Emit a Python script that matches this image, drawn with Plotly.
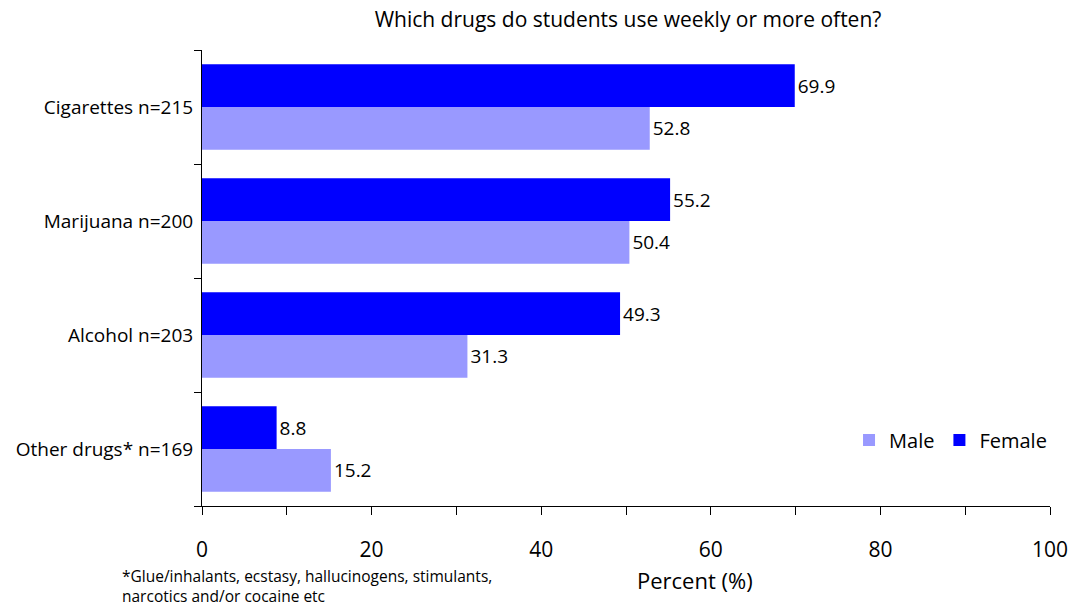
import plotly.graph_objects as go

categories = ["Other drugs* n=169", "Alcohol n=203", "Marijuana n=200", "Cigarettes n=215"]
male = [15.2, 31.3, 50.4, 52.8]
female = [8.8, 49.3, 55.2, 69.9]

FONT = "'Open Sans', Lato, sans-serif"

fig = go.Figure()
fig.add_trace(go.Bar(y=categories, x=male, orientation="h", name="Male",
                     marker=dict(color="#9999FF", line=dict(width=0)),
                     texttemplate="%{x:.1f}", textposition="outside",
                     textfont=dict(size=19, color="black"), cliponaxis=False))
fig.add_trace(go.Bar(y=categories, x=female, orientation="h", name="Female",
                     marker=dict(color="#0000FF", line=dict(width=0)),
                     texttemplate="%{x:.1f}", textposition="outside",
                     textfont=dict(size=19, color="black"), cliponaxis=False))

fig.update_layout(
    width=1077, height=607,
    margin=dict(l=202, r=27, t=50, b=101, autoexpand=False),
    paper_bgcolor="white", plot_bgcolor="white",
    font=dict(family=FONT, size=17, color="black"),
    barmode="group", bargap=0.248, bargroupgap=0,
    title=dict(text="Which drugs do students use weekly or more often?",
               x=628 / 1077, xref="container", xanchor="center",
               y=1 - 20 / 607, yref="container", yanchor="middle",
               font=dict(size=21)),
    showlegend=True,
    legend=dict(orientation="h", x=0.763, y=0.145, xanchor="left", yanchor="middle",
                font=dict(size=20), bgcolor="rgba(0,0,0,0)", itemwidth=30,
                traceorder="normal", tracegroupgap=0),
    uniformtext=dict(mode=False),
)
fig.update_xaxes(range=[0, 100], dtick=20, tick0=0, ticks="outside", ticklen=8,
                 tickcolor="black", showline=True, linecolor="black", linewidth=1,
                 showgrid=False, zeroline=False, tickfont=dict(size=21),
                 ticklabelstandoff=17, automargin=False,
                 minor=dict(dtick=10, ticks="outside", ticklen=8, tickcolor="black", showgrid=False))
fig.update_yaxes(type="category", categoryorder="array", categoryarray=categories,
                 ticks="outside", tickson="boundaries", ticklen=7, tickcolor="black",
                 showline=True, linecolor="black", linewidth=1, showgrid=False,
                 tickfont=dict(size=19), ticklabelstandoff=4, automargin=False)

fig.add_annotation(text="Percent (%)", x=(695 - 202) / 848, y=(506 - 580) / 456,
                   xref="paper", yref="paper",
                   showarrow=False, font=dict(size=22), xanchor="center", yanchor="middle")
fig.add_annotation(text="*Glue/inhalants, ecstasy, hallucinogens, stimulants,<br>narcotics and/or cocaine etc",
                   x=(120 - 202) / 848, y=(506 - 586) / 456, xref="paper", yref="paper",
                   showarrow=False, align="left", xanchor="left", yanchor="middle",
                   font=dict(size=15.5))

fig.write_html("out.html", config={"displayModeBar": False},
               post_script="document.body.style.margin='0';")
